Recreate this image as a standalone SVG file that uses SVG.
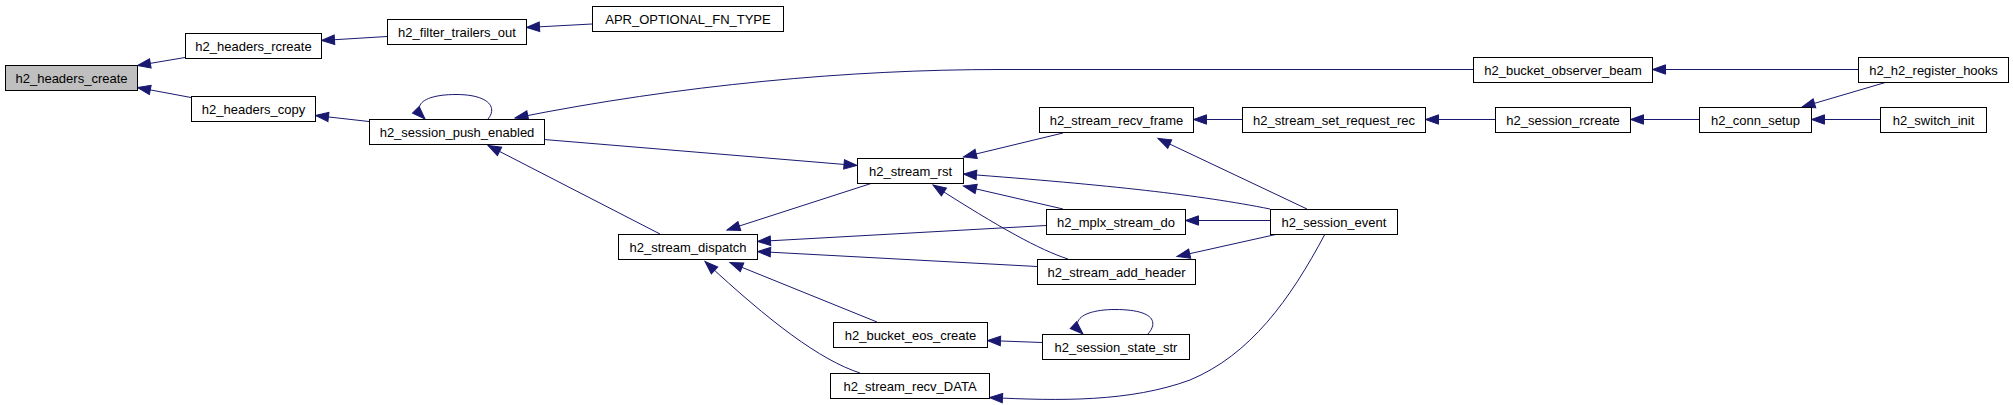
<svg xmlns="http://www.w3.org/2000/svg" width="2013" height="405" viewBox="0 0 2013 405">
<style>
.n rect{fill:#ffffff;stroke:#000000;stroke-width:1}
.n.g rect{fill:#bfbfbf}
.n text{font-family:"Liberation Sans",Arial,sans-serif;font-size:13px;fill:#000000;text-anchor:middle}
#edges path{fill:none;stroke:#191970;stroke-width:1;marker-end:url(#ah)}
</style>
<defs>
<marker id="ah" markerUnits="userSpaceOnUse" markerWidth="16" markerHeight="12" viewBox="0 0 16 12" refX="14" refY="6" orient="auto" overflow="visible">
<path d="M1,1.3 L14,6 L1,10.7 Z" fill="#191970" stroke="#191970" stroke-width="1"/>
</marker>
</defs>
<rect width="2013" height="405" fill="#ffffff"/>
<g id="edges">
<path d="M185,57.5 L137.5,65.5"/>
<path d="M191,97.5 L137.5,87.5"/>
<path d="M387,36.5 L321.5,40.5"/>
<path d="M592,24 L526.5,27.5"/>
<path d="M369,121.5 L315.5,115.5"/>
<path d="M488,119 C498,107 488,94.5 456,94.5 C426,94.5 410,104 425,119"/>
<path d="M1473,69.5 L1000,69.5 C850,69.5 680,85 515,118"/>
<path d="M1858,69.5 L1652.5,69.5"/>
<path d="M544,139.5 L857,165.5"/>
<path d="M660,234 L488,145.5"/>
<path d="M871,183.5 L727,230"/>
<path d="M1063,133 L963.5,157"/>
<path d="M1270,209 C1200,195 1110,185 963.5,174"/>
<path d="M1063,209 L963.5,186"/>
<path d="M1068,259 C1040,250 1000,228 933,185"/>
<path d="M1046,225.5 L757.5,241.5"/>
<path d="M1037,266.5 L757.5,251.5"/>
<path d="M877,322 L730,262.5"/>
<path d="M860,373 C820,360 770,322 705,261.5"/>
<path d="M1042,342.5 L987.5,340.5"/>
<path d="M1148,334 C1160,320 1150,309.5 1115,309.5 C1085,309.5 1068,320 1083,334"/>
<path d="M1325,234 C1290,300 1250,355 1190,380 C1130,402 1060,401 989.5,397.5"/>
<path d="M1307,209 L1158,138.5"/>
<path d="M1270,220.5 L1185.5,220.5"/>
<path d="M1278,234 L1177,256.5"/>
<path d="M1242,119.5 L1193.5,119.5"/>
<path d="M1495,119.5 L1425.5,119.5"/>
<path d="M1699,119.5 L1630.5,119.5"/>
<path d="M1887,82 L1802,107"/>
<path d="M1880,119.5 L1811.5,119.5"/>
</g>
<g id="n1" class="n g"><rect x="5.5" y="65.5" width="132" height="25"/><text x="71.5" y="82.5">h2_headers_create</text></g>
<g id="n2" class="n"><rect x="185.5" y="33.5" width="136" height="25"/><text x="253.5" y="50.5">h2_headers_rcreate</text></g>
<g id="n3" class="n"><rect x="387.5" y="19.5" width="139" height="25"/><text x="457" y="36.5">h2_filter_trailers_out</text></g>
<g id="n4" class="n"><rect x="592.5" y="6.5" width="191" height="25"/><text x="688" y="23.5">APR_OPTIONAL_FN_TYPE</text></g>
<g id="n5" class="n"><rect x="191.5" y="96.5" width="124" height="25"/><text x="253.5" y="113.5">h2_headers_copy</text></g>
<g id="n6" class="n"><rect x="369.5" y="119.5" width="175" height="25"/><text x="457" y="136.5">h2_session_push_enabled</text></g>
<g id="n7" class="n"><rect x="1473.5" y="57.5" width="179" height="25"/><text x="1563" y="74.5">h2_bucket_observer_beam</text></g>
<g id="n8" class="n"><rect x="1858.5" y="57.5" width="150" height="25"/><text x="1933.5" y="74.5">h2_h2_register_hooks</text></g>
<g id="n9" class="n"><rect x="857.5" y="158.5" width="106" height="25"/><text x="910.5" y="175.5">h2_stream_rst</text></g>
<g id="n10" class="n"><rect x="618.5" y="234.5" width="139" height="25"/><text x="688" y="251.5">h2_stream_dispatch</text></g>
<g id="n11" class="n"><rect x="1039.5" y="107.5" width="154" height="25"/><text x="1116.5" y="124.5">h2_stream_recv_frame</text></g>
<g id="n12" class="n"><rect x="1242.5" y="107.5" width="183" height="25"/><text x="1334" y="124.5">h2_stream_set_request_rec</text></g>
<g id="n13" class="n"><rect x="1495.5" y="107.5" width="135" height="25"/><text x="1563" y="124.5">h2_session_rcreate</text></g>
<g id="n14" class="n"><rect x="1699.5" y="107.5" width="112" height="25"/><text x="1755.5" y="124.5">h2_conn_setup</text></g>
<g id="n15" class="n"><rect x="1880.5" y="107.5" width="106" height="25"/><text x="1933.5" y="124.5">h2_switch_init</text></g>
<g id="n16" class="n"><rect x="1046.5" y="209.5" width="139" height="25"/><text x="1116" y="226.5">h2_mplx_stream_do</text></g>
<g id="n17" class="n"><rect x="1270.5" y="209.5" width="127" height="25"/><text x="1334" y="226.5">h2_session_event</text></g>
<g id="n18" class="n"><rect x="1037.5" y="259.5" width="158" height="25"/><text x="1116.5" y="276.5">h2_stream_add_header</text></g>
<g id="n19" class="n"><rect x="833.5" y="322.5" width="154" height="25"/><text x="910.5" y="339.5">h2_bucket_eos_create</text></g>
<g id="n20" class="n"><rect x="1042.5" y="334.5" width="147" height="25"/><text x="1116" y="351.5">h2_session_state_str</text></g>
<g id="n21" class="n"><rect x="830.5" y="373.5" width="159" height="25"/><text x="910" y="390.5">h2_stream_recv_DATA</text></g>
</svg>
